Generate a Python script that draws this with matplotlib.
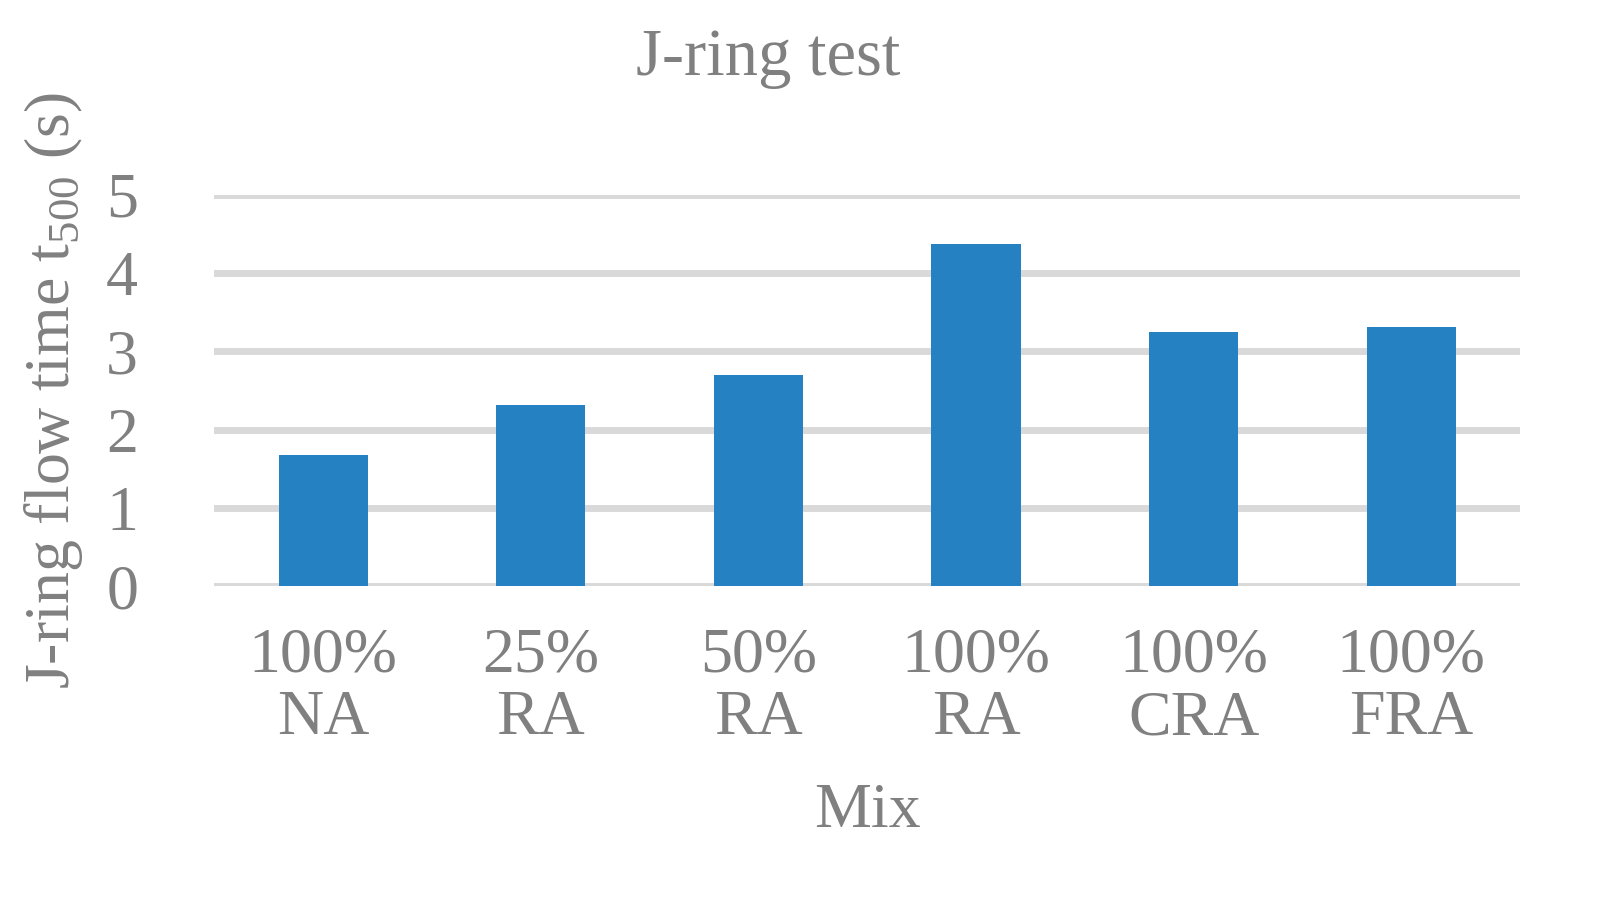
import matplotlib.pyplot as plt

plt.rcParams['font.family'] = ['Liberation Serif', 'DejaVu Serif']
plt.rcParams['mathtext.fontset'] = 'custom'
plt.rcParams['mathtext.rm'] = 'Liberation Serif'

mixes = ['100%\nNA', '25%\nRA', '50%\nRA', '100%\nRA', '100%\nCRA', '100%\nFRA']
flow_time = [1.68, 2.31, 2.70, 4.37, 3.25, 3.31]

grey = '#808080'
fig = plt.figure(figsize=(16, 9.02), dpi=100)
ax = fig.add_axes([0.134, 0.35, 0.816, 0.434])
x = range(len(mixes))
ax.bar(x, flow_time, width=0.41, color='#2681C3', zorder=3)
ax.set_ylim(0, 5)
ax.set_xlim(-0.5, len(mixes) - 0.5)
ax.set_yticks(range(6))
ax.yaxis.grid(True, color='#D9D9D9', linewidth=5, zorder=0)
ax.set_xticks(list(x))
ax.set_xticklabels(mixes, linespacing=1.1)
ax.tick_params(axis='both', length=0, labelsize=46, labelcolor=grey)
ax.tick_params(axis='x', pad=30)
ax.tick_params(axis='y', pad=55)
for s in ax.spines.values():
    s.set_visible(False)
fig.text(0.48, 0.935, 'J-ring test', fontsize=48, color=grey, ha='center', va='center')
ax.set_xlabel('Mix', fontsize=46, color=grey, labelpad=25)
ax.set_ylabel('J-ring flow time t$_{\\mathrm{500}}$ (s)', fontsize=46, color=grey, labelpad=15)

fig.savefig('out.png', dpi=100)
